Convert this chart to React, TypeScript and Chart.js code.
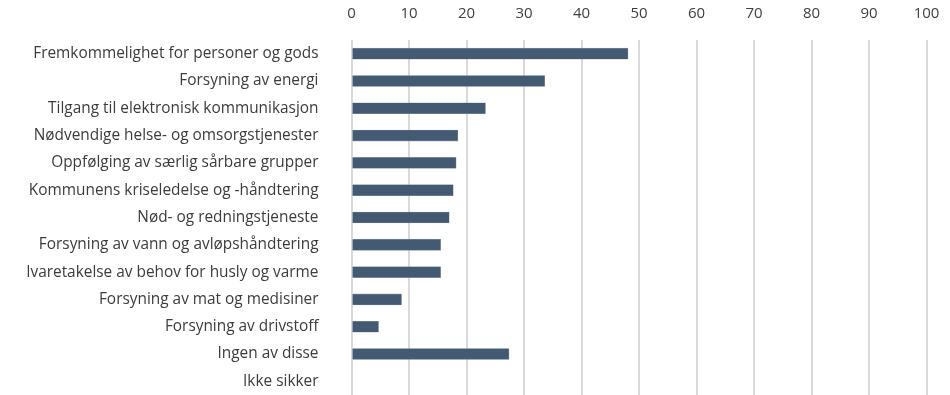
import React, { useEffect, useRef } from "react";
import { Chart, registerables } from "chart.js";

Chart.register(...registerables);

const categories = [
  "Fremkommelighet for personer og gods",
  "Forsyning av energi",
  "Tilgang til elektronisk kommunikasjon",
  "Nødvendige helse- og omsorgstjenester",
  "Oppfølging av særlig sårbare grupper",
  "Kommunens kriseledelse og -håndtering",
  "Nød- og redningstjeneste",
  "Forsyning av vann og avløpshåndtering",
  "Ivaretakelse av behov for husly og varme",
  "Forsyning av mat og medisiner",
  "Forsyning av drivstoff",
  "Ingen av disse",
  "Ikke sikker",
];

const values = [48.1, 33.6, 23.3, 18.5, 18.2, 17.7, 17.0, 15.5, 15.5, 8.7, 4.7, 27.4, 0];

const xTicks = [0, 10, 20, 30, 40, 50, 60, 70, 80, 90, 100];

export default function App() {
  const ref = useRef<HTMLCanvasElement | null>(null);
  useEffect(() => {
    document.body.style.margin = "0";
    const ctx = ref.current!;
    const chart = new Chart(ctx, {
      type: "bar",
      data: {
        labels: categories,
        datasets: [
          {
            data: values,
            backgroundColor: "#435a72",
            borderColor: "#8797aa",
            borderWidth: 0.6,
            barThickness: 11,
          },
        ],
      },
      options: {
        indexAxis: "y",
        animation: false,
        responsive: false,
        maintainAspectRatio: false,
        layout: { padding: 0 },
        plugins: { legend: { display: false }, tooltip: { enabled: false } },
        scales: {
          x: {
            position: "top",
            min: 0,
            max: 100,
            afterBuildTicks: (scale: any) => {
              scale.ticks = xTicks.map((v) => ({ value: v }));
            },
            afterFit: (scale: any) => {
              scale.height = 40;
              scale.paddingLeft = 0;
              scale.paddingRight = 23.5;
              scale.paddingTop = 0;
              scale.paddingBottom = 0;
            },
            grid: { color: "#d9d9d9", lineWidth: 2, drawTicks: false },
            border: { display: false },
            ticks: {
              color: "#404040",
              padding: 17,
              font: { family: "'Open Sans'", size: 15 },
            },
          },
          y: {
            afterFit: (scale: any) => {
              scale.width = 351.5;
              scale.paddingTop = 0;
              scale.paddingBottom = 0;
              scale.paddingLeft = 0;
              scale.paddingRight = 0;
            },
            grid: { display: false, drawTicks: false },
            border: { display: false },
            ticks: {
              color: "#3c3c3c",
              padding: 33,
              autoSkip: false,
              font: { family: "'Open Sans'", size: 15.4 },
            },
          },
        },
      },
    });
    return () => chart.destroy();
  }, []);
  return (
    <div style={{ position: "absolute", left: 0, top: 0, width: 950, height: 395 }}>
      <canvas ref={ref} width={950} height={395} style={{ width: 950, height: 395 }} />
    </div>
  );
}
